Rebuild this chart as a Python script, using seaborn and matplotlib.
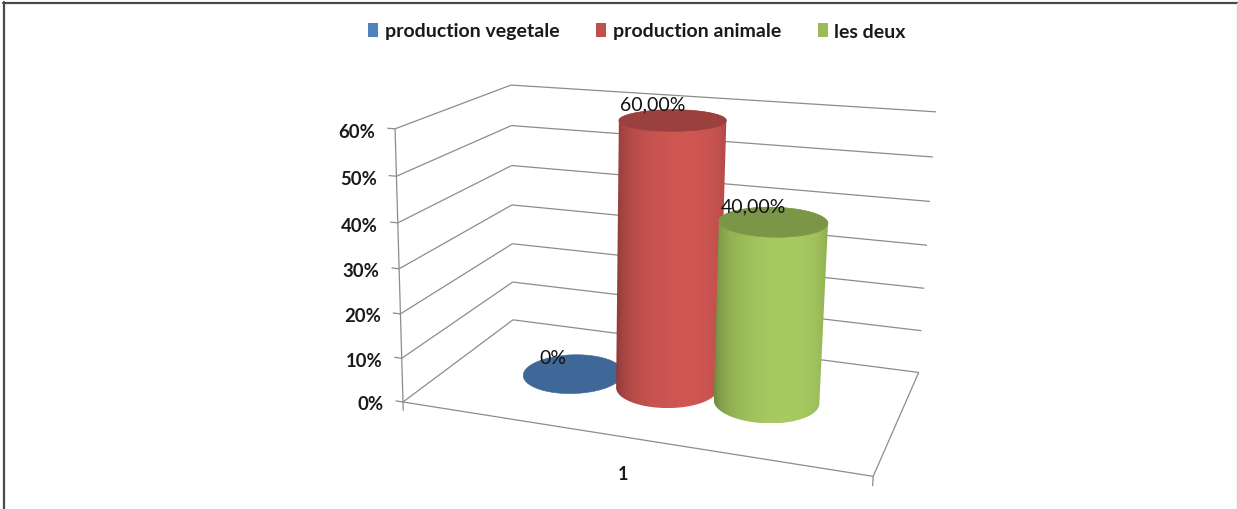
import numpy as np
import matplotlib
matplotlib.use("Agg")
import matplotlib.pyplot as plt
import matplotlib.colors as mcolors
from matplotlib.patches import Polygon, Patch
from matplotlib.lines import Line2D
import seaborn as sns

# ---- data -------------------------------------------------------------
series = ["production vegetale", "production animale", "les deux"]
values = [0.0, 0.60, 0.40]
category = "1"
value_ticks = [0.0, 0.1, 0.2, 0.3, 0.4, 0.5, 0.6]
tick_labels = ["0%", "10%", "20%", "30%", "40%", "50%", "60%"]
series_colors = ["#4F81BD", "#C0504D", "#9BBB59"]

# ---- style ------------------------------------------------------------
sns.set_theme(style="white")
plt.rcParams["font.family"] = ["Lato", "DejaVu Sans"]
TEXT = "#1a1a1a"
GRID = "#8c8c8c"
palette = sns.color_palette(series_colors)

W, H = 1238, 510
fig = plt.figure(figsize=(W / 100, H / 100), dpi=100)
ax = fig.add_axes([0, 0, 1, 1])
ax.axis("off")

# ---- perspective camera ----------------------------------------------
# world: x along the category axis (0..1), depth from front (0) to back (1),
# z = value. Each axis is given by its vanishing point on screen and a weight.
origin_px = np.array([403.0, 403.0, 1.0])
axis_vanish = [
    (-3000.0, -135.0, -0.1214),   # category axis
    (1150.0, -155.0, 0.1727),     # depth axis
    (560.0, 5800.0, -0.0803),     # value axis
]
CAM = np.column_stack([w * np.array([vx, vy, 1.0]) for vx, vy, w in axis_vanish] + [origin_px])


def project(x, d, z):
    x, d, z = np.broadcast_arrays(np.asarray(x, float), np.asarray(d, float), np.asarray(z, float))
    h = CAM @ np.stack([x, d, z, np.ones_like(x)])
    return h[0] / h[2], h[1] / h[2], h[2]


def convex_hull(pts):
    pts = sorted(set(map(tuple, np.round(pts, 4))))

    def cross(o, a, b):
        return (a[0] - o[0]) * (b[1] - o[1]) - (a[1] - o[1]) * (b[0] - o[0])

    lower, upper = [], []
    for p in pts:
        while len(lower) >= 2 and cross(lower[-2], lower[-1], p) <= 0:
            lower.pop()
        lower.append(p)
    for p in reversed(pts):
        while len(upper) >= 2 and cross(upper[-2], upper[-1], p) <= 0:
            upper.pop()
        upper.append(p)
    return np.array(lower[:-1] + upper[:-1])


zmax = value_ticks[-1]

# ---- walls, floor and axes -------------------------------------------
line_kw = dict(color=GRID, lw=0.9, solid_capstyle="butt", zorder=1)
for z in value_ticks:
    bx, by, _ = project([0, 1], [1, 1], [z, z])          # back wall
    ax.plot(bx, by, **line_kw)
    sx, sy, _ = project([0, 0], [0, 1], [z, z])          # side wall
    ax.plot(sx, sy, **line_kw)
    tx, ty, _ = project([0, -0.018], [0, 0], [z, z])     # value tick
    ax.plot(tx, ty, **line_kw)

# floor outline (front and right edges)
fx, fy, _ = project([0, 1, 1], [0, 0, 1], [0, 0, 0])
ax.plot(fx, fy, **line_kw)
# value axis line
vx_, vy_, _ = project([0, 0], [0, 0], [0, zmax])
ax.plot(vx_, vy_, **line_kw)
# category ticks
for xe in (0, 1):
    cx, cy, _ = project([xe, xe], [0, 0], [0, -0.02])
    ax.plot(cx, cy, **line_kw)

# value tick labels
for z, lab in zip(value_ticks, tick_labels):
    tx, ty, _ = project(-0.018, 0, z)
    ax.annotate(lab, xy=(float(tx), float(ty)), xytext=(-12, -3), textcoords="offset pixels",
                ha="right", va="center", fontsize=13.3, fontweight="bold", color=TEXT, zorder=5)

# category label
cx, cy, _ = project(0.5, 0, 0)
ax.annotate(category, xy=(float(cx), float(cy)), xytext=(0, -37), textcoords="offset pixels",
            ha="center", va="center", fontsize=13, fontweight="bold", color=TEXT, zorder=5)

# ---- cylinders ---------------------------------------------------------
n_series = len(series)
gap_width = 1.5
bar_w = 1.0 / (n_series + gap_width)
centers = [gap_width * bar_w / 2 + (i + 0.5) * bar_w for i in range(n_series)]
depth_center, depth_radius = 0.5, 0.21
light_angle = np.deg2rad(-76)


def draw_cylinder(xc, h, color, z0):
    base = np.array(mcolors.to_rgb(color))
    dark = base * 0.74
    light = np.clip(base * 1.08, 0, 1)
    top = base * 0.80
    th = np.linspace(0, 2 * np.pi, 241)
    xs = xc + (bar_w / 2) * np.cos(th)
    ds = depth_center + depth_radius * np.sin(th)
    tx, ty, _ = project(xs, ds, h)
    if h > 0:
        bx, by, _ = project(xs, ds, 0)
        hull = convex_hull(np.column_stack([np.r_[bx, tx], np.r_[by, ty]]))
        body = Polygon(hull, closed=True, facecolor="none", edgecolor="none")
        ax.add_patch(body)
        # horizontal shading across the body: position -> surface angle -> light
        f = (np.arange(400) + 0.5) / 400
        ang = 2 * np.pi - np.arccos(2 * f - 1)
        k = np.clip(np.cos(ang - light_angle), 0, None) ** 0.8
        grad = dark[None, :] + (light - dark)[None, :] * k[:, None]
        img = np.repeat(grad[None, :, :], 2, axis=0)
        x0, x1 = hull[:, 0].min(), hull[:, 0].max()
        y0, y1 = hull[:, 1].min(), hull[:, 1].max()
        im = ax.imshow(img, extent=(x0, x1, y1, y0), aspect="auto", interpolation="bilinear",
                       zorder=z0)
        im.set_clip_path(body)
    ax.add_patch(Polygon(np.column_stack([tx, ty]), closed=True, facecolor=top, edgecolor=top,
                         lw=0.4, zorder=z0 + 0.5))


# paint far bars first
order = sorted(range(n_series), key=lambda i: -float(project(centers[i], depth_center, 0)[2]))
for rank, i in enumerate(order):
    draw_cylinder(centers[i], values[i], palette[i], z0=2 + rank)


def value_text(v):
    return "0%" if v == 0 else f"{v * 100:.2f}%".replace(".", ",")


for i, v in enumerate(values):
    px, py, _ = project(centers[i], depth_center, v)
    ax.annotate(value_text(v), xy=(float(px), float(py)), xytext=(-20, 16), textcoords="offset pixels",
                ha="center", va="center", fontsize=14, color="#111111", zorder=10)

ax.set_xlim(0, W)
ax.set_ylim(H, 0)

# ---- legend ------------------------------------------------------------
handles = [Patch(facecolor=c, edgecolor="none") for c in palette]
fig.legend(handles, series, loc="center", bbox_to_anchor=(637 / W, 1 - 32 / H), ncol=3,
           frameon=False, handlelength=0.5, handleheight=0.75, handletextpad=0.35,
           columnspacing=1.9, prop=dict(size=14, weight="bold"), labelcolor=TEXT)

# ---- chart frame -------------------------------------------------------
fig.add_artist(Line2D([3.5 / W, 3.5 / W], [0, 1 - 3 / H], transform=fig.transFigure,
                      color="#4a4a4a", lw=1.6))
fig.add_artist(Line2D([3 / W, 1], [1 - 4 / H, 1 - 4 / H], transform=fig.transFigure,
                      color="#4a4a4a", lw=1.6))
fig.add_artist(Line2D([1236.5 / W, 1236.5 / W], [0, 1 - 4 / H], transform=fig.transFigure,
                      color="#cfcfcf", lw=0.9))

fig.savefig("out.png", dpi=100)
